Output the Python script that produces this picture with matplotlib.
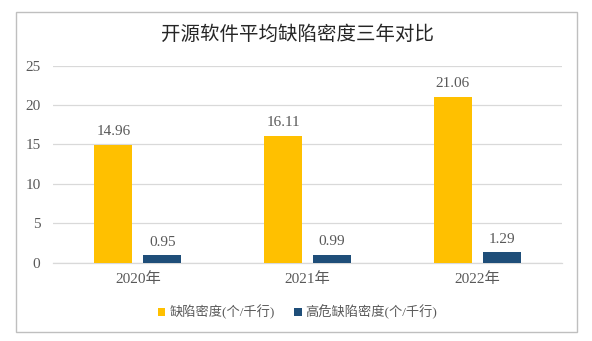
import numpy as np
import matplotlib
matplotlib.use("Agg")
import matplotlib.pyplot as plt
from matplotlib.patches import Rectangle

plt.rcParams['font.family'] = ['Liberation Serif', 'Noto Sans CJK SC']

# 数据
years = ['2020年', '2021年', '2022年']
defect_density = [14.96, 16.11, 21.06]
high_risk_density = [0.95, 0.99, 1.29]
series_names = ['缺陷密度(个/千行)', '高危缺陷密度(个/千行)']

text_color = '#595959'
yellow = '#FFC000'
blue = '#1F4E79'

fig = plt.figure(figsize=(5.92, 3.41), dpi=100)
ax = fig.add_axes([0.0895, 0.2302, 0.860, 0.577])

x = np.arange(len(years))
w = 0.224
off = 0.144
b1 = ax.bar(x - off, defect_density, w, color=yellow, label=series_names[0], zorder=3)
b2 = ax.bar(x + off, high_risk_density, w, color=blue, label=series_names[1], zorder=3)

for bars, vals in [(b1, defect_density), (b2, high_risk_density)]:
    for r, v in zip(bars, vals):
        ax.text(r.get_x() + r.get_width() / 2, v + 0.8, f'{v:.2f}',
                ha='center', va='bottom', fontsize=11, color=text_color)

ax.set_xlim(-0.5, 2.5)
ax.set_ylim(0, 25)
ax.set_yticks([0, 5, 10, 15, 20, 25])
ax.set_xticks(x)
ax.set_xticklabels(years)
ax.tick_params(axis='both', length=0, labelsize=11, colors=text_color)
ax.tick_params(axis='y', pad=9)
ax.tick_params(axis='x', pad=7)
ax.grid(axis='y', color='#D9D9D9', lw=0.9, zorder=0)
for s in ['left', 'right', 'top']:
    ax.spines[s].set_visible(False)
ax.spines['bottom'].set_color('#D9D9D9')
ax.spines['bottom'].set_linewidth(0.9)

fig.text(0.502, 0.897, '开源软件平均缺陷密度三年对比', ha='center', va='center',
         fontsize=14, color='#262626')

fig.legend(handles=[b1, b2], loc='center', bbox_to_anchor=(0.503, 0.085),
           ncol=2, frameon=False, fontsize=9.5, labelcolor=text_color,
           handlelength=0.55, handleheight=0.55, handletextpad=0.3,
           columnspacing=1.5)

fig.patches.append(Rectangle((16 / 592, 1 - 332 / 341), 561 / 592, 320 / 341,
                             transform=fig.transFigure, fill=False,
                             edgecolor='#BFBFBF', lw=1))

fig.savefig('out.png', dpi=100)
